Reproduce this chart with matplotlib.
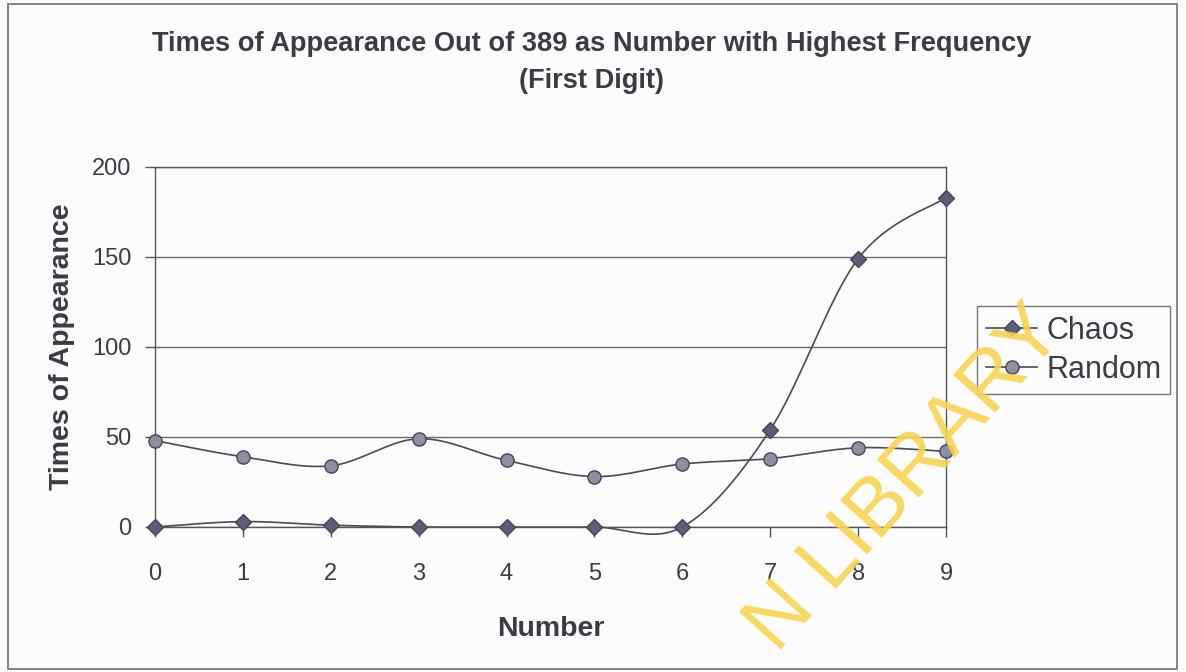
import numpy as np
import matplotlib
matplotlib.use("Agg")
import matplotlib.pyplot as plt
from matplotlib.patches import Rectangle

numbers = [0, 1, 2, 3, 4, 5, 6, 7, 8, 9]
chaos = [0, 3, 1, 0, 0, 0, 0, 54, 149, 183]
random_ = [48, 39, 34, 49, 37, 28, 35, 38, 44, 42]

plt.rcParams['font.family'] = ['Liberation Sans', 'DejaVu Sans']
ink = '#3b3b46'


def smooth(xs, ys, n=40):
    # piecewise cubic bezier through the points (spreadsheet-style smoothed line)
    p = np.column_stack([xs, ys]).astype(float)
    ext = np.vstack([p[0], p, p[-1]])
    out = []
    t = np.linspace(0, 1, n)[:, None]
    for i in range(len(p) - 1):
        p0, p3 = p[i], p[i + 1]
        c1 = p0 + (ext[i + 2] - ext[i]) / 6.0
        c2 = p3 - (ext[i + 3] - ext[i + 1]) / 6.0
        seg = ((1 - t) ** 3) * p0 + 3 * ((1 - t) ** 2) * t * c1 + 3 * (1 - t) * t ** 2 * c2 + t ** 3 * p3
        out.append(seg)
    s = np.vstack(out)
    return s[:, 0], s[:, 1]


fig = plt.figure(figsize=(11.86, 6.72), dpi=100)
fig.patch.set_facecolor('#fbfcfb')
fig.patches.append(Rectangle((0.007, 0.005), 0.985, 0.989, transform=fig.transFigure,
                             fill=False, edgecolor='#7a7a7a', lw=1.3))

ax = fig.add_axes([0.1307, 0.2158, 0.6669, 0.5357])
ax.set_facecolor('#fbfcfb')

for vals, mk, fc, ms in [(chaos, 'D', '#5d5d7a', 8),
                         (random_, 'o', '#8f8fa3', 9.5)]:
    sx, sy = smooth(numbers, vals)
    ax.plot(sx, sy, color='#4a4a55', lw=1.2, clip_on=False)
    ax.plot(numbers, vals, linestyle='none', marker=mk, ms=ms, mfc=fc, mec='#44445a',
            mew=1.0, clip_on=False, zorder=4)

ax.set_xlim(0, 9)
ax.set_ylim(0, 200)
ax.set_xticks(numbers)
ax.set_yticks([0, 50, 100, 150, 200])
ax.yaxis.grid(True, color='#6a6a6a', lw=1.0)
ax.set_axisbelow(True)
for sp in ax.spines.values():
    sp.set_color('#555555')
    sp.set_linewidth(1.0)
ax.tick_params(axis='both', direction='out', length=7, width=1.0, color='#555555',
               labelsize=17, labelcolor=ink)
ax.tick_params(axis='x', pad=19)
ax.tick_params(axis='y', pad=10)

ax.set_xlabel('Number', fontsize=20.5, fontweight='bold', color=ink, labelpad=22)
ax.set_ylabel('Times of Appearance', fontsize=20.5, fontweight='bold', color=ink, labelpad=12)

fig.text(0.499, 0.935, 'Times of Appearance Out of 389 as Number with Highest Frequency',
         ha='center', va='center', fontsize=19.6, fontweight='bold', color=ink)
fig.text(0.499, 0.88, '(First Digit)', ha='center', va='center', fontsize=19.6,
         fontweight='bold', color=ink)

h1 = plt.Line2D([], [], color='#4a4a55', lw=1.2, marker='D', ms=8, mfc='#5d5d7a', mec='#44445a')
h2 = plt.Line2D([], [], color='#4a4a55', lw=1.2, marker='o', ms=9.5, mfc='#8f8fa3', mec='#44445a')
leg = fig.legend([h1, h2], ['Chaos', 'Random'], loc='center left',
                 bbox_to_anchor=(0.824, 0.479), fontsize=22, frameon=True, fancybox=False,
                 handlelength=1.65, handletextpad=0.3, borderpad=0.3, labelspacing=0.3,
                 borderaxespad=0)
leg.get_frame().set_edgecolor('#555555')
leg.get_frame().set_linewidth(1.0)
leg.get_frame().set_facecolor('#fbfcfb')
for t in leg.get_texts():
    t.set_color(ink)

# library stamp across the lower right
fig.text(0.764, 0.285, 'N LIBRARY', rotation=48, ha='center', va='center',
         fontsize=59, color='#f8d352', alpha=0.9, zorder=10)

fig.savefig('out.png', dpi=100, facecolor=fig.get_facecolor())
